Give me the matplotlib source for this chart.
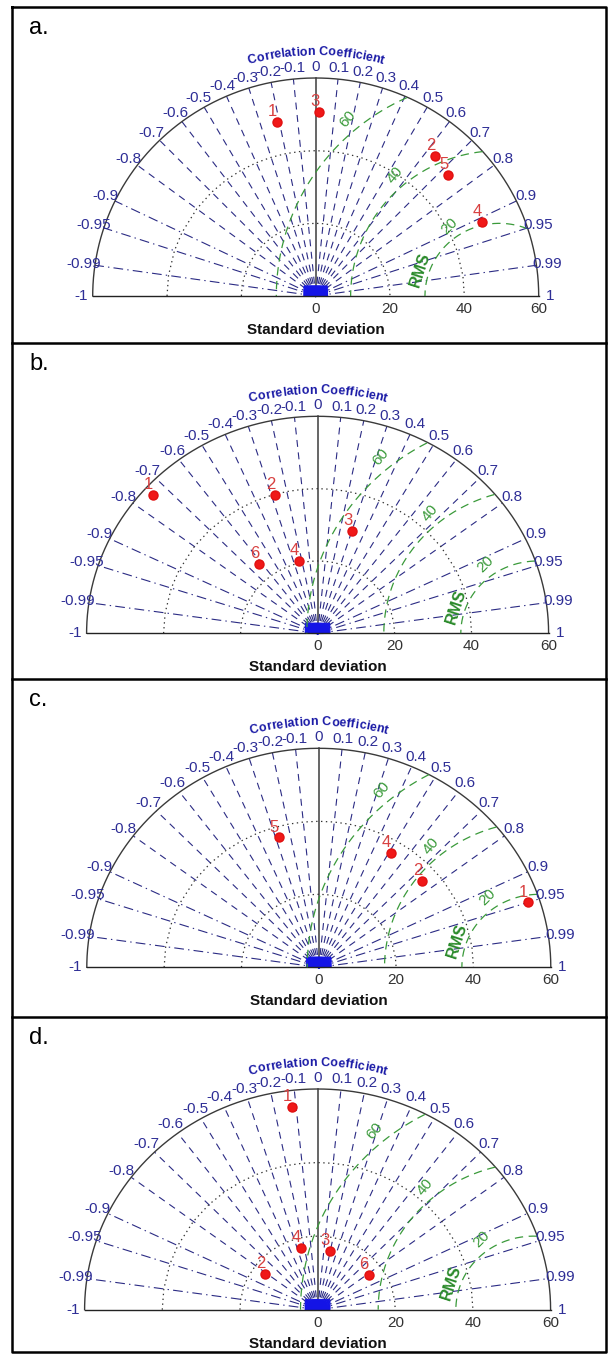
import numpy as np
import matplotlib
matplotlib.use('Agg')
import matplotlib.pyplot as plt
from matplotlib.lines import Line2D
from matplotlib.font_manager import FontProperties, fontManager
from matplotlib.textpath import TextToPath

plt.rcParams['lines.scale_dashes'] = False
installed = {f.name for f in fontManager.ttflist}
NARROW = ['Liberation Sans Narrow'] if 'Liberation Sans Narrow' in installed else ['Liberation Sans']
NARROW = NARROW + ['DejaVu Sans']

# ---- data ----
panel_names = ['a.', 'b.', 'c.', 'd.']
ref_std = [49.4, 57.2, 57.0, 55.6]

a_labels = ['1', '2', '3', '4', '5']
a_std = [49.1, 50.3, 50.6, 49.2, 48.9]
a_corr = [-0.21, 0.64, 0.02, 0.91, 0.73]

b_labels = ['1', '2', '3', '4', '6']
b_std = [57.4, 39.8, 29.7, 20.6, 24.5]
b_corr = [-0.746, -0.277, 0.303, -0.231, -0.62]

c_labels = ['1', '2', '4', '5']
c_std = [57.0, 35.7, 36.4, 37.1]
c_corr = [0.95, 0.75, 0.51, -0.28]

d_labels = ['1', '2', '3', '4', '6']
d_std = [55.6, 16.7, 16.4, 17.4, 16.3]
d_corr = [-0.117, -0.81, 0.195, -0.247, 0.81]

corr_ticks = [-1, -0.99, -0.95, -0.9, -0.8, -0.7, -0.6, -0.5, -0.4, -0.3, -0.2, -0.1,
              0, 0.1, 0.2, 0.3, 0.4, 0.5, 0.6, 0.7, 0.8, 0.9, 0.95, 0.99, 1]
std_ticks = [0, 20, 40, 60]
std_circles = [20, 40]
rms_levels = [20, 40, 60]
std_max = 60

panels = [(a_labels, a_std, a_corr), (b_labels, b_std, b_corr),
          (c_labels, c_std, c_corr), (d_labels, d_std, d_corr)]

# ---- page layout (pixels) ----
W, H = 611, 1355
box_left, box_right = 12, 606
box_tops = [7, 343, 679, 1017]
box_bots = [343, 679, 1017, 1352]
centre_x = [315.7, 317.6, 318.8, 317.6]
base_y = [296, 633.3, 967.3, 1309.7]
rad_x = [223, 231, 232, 233]
rad_y = [218, 217, 219, 220.7]

fig = plt.figure(figsize=(W / 100, H / 100), dpi=100)

NAVY = '#2b2b84'
GREEN = '#3a9a3a'
ttp = TextToPath()


def curved_title(ax, text, radius, prop, px_per_unit):
    widths = [ttp.get_text_width_height_descent(text[:i], prop, ismath=False)[0] if i else 0
              for i in range(len(text) + 1)]
    total = widths[-1] * 100 / 72 / px_per_unit
    for i, ch in enumerate(text):
        if ch == ' ':
            continue
        mid = (widths[i] + widths[i + 1]) / 2 * 100 / 72 / px_per_unit
        ang = np.pi / 2 + (total / 2 - mid) / radius
        ax.text(radius * np.cos(ang), radius * np.sin(ang), ch, fontproperties=prop,
                color='#1a1aa6', rotation=np.degrees(ang) - 90, rotation_mode='anchor',
                ha='center', va='baseline')


for k, (labels, stds, corrs) in enumerate(panels):
    x0, x1, yt, yb = box_left, box_right, box_tops[k], box_bots[k]
    ax = fig.add_axes([x0 / W, 1 - yb / H, (x1 - x0) / W, (yb - yt) / H])
    sx = rad_x[k] / std_max
    sy = rad_y[k] / std_max
    ax.set_xlim((x0 - centre_x[k]) / sx, (x1 - centre_x[k]) / sx)
    ax.set_ylim((base_y[k] - yb) / sy, (base_y[k] - yt) / sy)
    ax.axis('off')

    # radial correlation lines
    for c in corr_ticks:
        if abs(c) == 1:
            continue
        th = np.arccos(c)
        xs = [0, std_max * np.cos(th)]
        ys = [0, std_max * np.sin(th)]
        if c == 0:
            ax.plot(xs, ys, color='#3c3c3c', lw=1.1)
        elif abs(c) >= 0.9:
            ax.plot(xs, ys, color=NAVY, lw=0.8, dashes=(7, 3, 1, 3))
        else:
            ax.plot(xs, ys, color=NAVY, lw=0.8, dashes=(5, 4))

    # blue knot at the origin (flat, box-shaped)
    for th in np.linspace(0.02, np.pi - 0.02, 36):
        ex, ey = np.cos(th), np.sin(th)
        scale = min(3.1 / abs(ex) if abs(ex) > 1e-6 else 1e9, 2.7 / ey)
        ax.plot([0, scale * ex], [0, scale * ey], color='#1414e6', lw=1.2)

    # dotted std circles (polygon through the correlation angles)
    angs = np.arccos(np.array(corr_ticks))
    for r in std_circles:
        ax.plot(r * np.cos(angs), r * np.sin(angs), color='#333333', lw=0.9, dashes=(1, 2.5))

    # outer rim and base line
    t = np.linspace(0, np.pi, 300)
    ax.plot(std_max * np.cos(t), std_max * np.sin(t), color='#3a3a3a', lw=1.0)
    ax.plot([-std_max, std_max], [0, 0], color='#222222', lw=1.0)

    # RMS contours about the reference point
    s0 = ref_std[k]
    t2 = np.linspace(0, np.pi, 600)
    for r in rms_levels:
        cx = s0 + r * np.cos(t2)
        cy = r * np.sin(t2)
        inside = np.hypot(cx, cy) <= std_max
        cx = np.where(inside, cx, np.nan)
        cy = np.where(inside, cy, np.nan)
        ax.plot(cx, cy, color=GREEN, lw=0.9, dashes=(6, 4))
        phi = np.radians(125 if r == 20 else 130)
        ax.text(s0 + (r + 3.5) * np.cos(phi), (r + 3.5) * np.sin(phi), str(r),
                color=GREEN, fontsize=11, family=NARROW, rotation=45 if r == 20 else 50,
                ha='center', va='center')
    phi = np.radians(161)
    ax.text(s0 + 22.5 * np.cos(phi), 22.5 * np.sin(phi), 'RMS', color='#2a8a2a',
            fontsize=11.5, family=NARROW, fontweight='bold', rotation=72,
            ha='center', va='center')

    # correlation labels
    for c in corr_ticks:
        th = np.arccos(c)
        ax.text(1.05 * std_max * np.cos(th), 1.05 * std_max * np.sin(th), f'{c:g}',
                color='#2e2e96', fontsize=11, family=NARROW, ha='center', va='center')

    # std tick labels and axis title
    for s in std_ticks:
        ax.text(s, -13 / sy, str(s), color='#333333', fontsize=11, family=NARROW,
                ha='center', va='center')
    ax.text(0, -34 / sy, 'Standard deviation', color='#111111', fontsize=11,
            family=NARROW, fontweight='bold', ha='center', va='center')

    prop = FontProperties(family=NARROW, size=9, weight='bold')
    curved_title(ax, 'Correlation Coefficient', 1.105 * std_max, prop, (sx + sy) / 2)

    # model points
    for lab, s, c in zip(labels, stds, corrs):
        px, py = s * c, s * np.sqrt(1 - c ** 2)
        ax.plot(px, py, 'o', color='#f01818', ms=6.5, mec='#e01010')
        ax.annotate(lab, (px, py), xytext=(0, 2), textcoords='offset points',
                    ha='right', va='bottom', color='#d84040', fontsize=12, family=NARROW)

    fig.text(29 / W, 1 - (yt + 27) / H, panel_names[k], fontsize=17,
             family=['Liberation Sans', 'DejaVu Sans'], va='baseline', ha='left')

# panel frames
for y in box_tops[1:]:
    fig.add_artist(Line2D([box_left / W, box_right / W], [1 - y / H, 1 - y / H],
                          transform=fig.transFigure, color='black', lw=1.8))
fig.add_artist(Line2D([box_left / W, box_right / W, box_right / W, box_left / W, box_left / W],
                      [1 - 7 / H, 1 - 7 / H, 1 - 1352 / H, 1 - 1352 / H, 1 - 7 / H],
                      transform=fig.transFigure, color='black', lw=1.8))

fig.savefig('out.png', dpi=100)
